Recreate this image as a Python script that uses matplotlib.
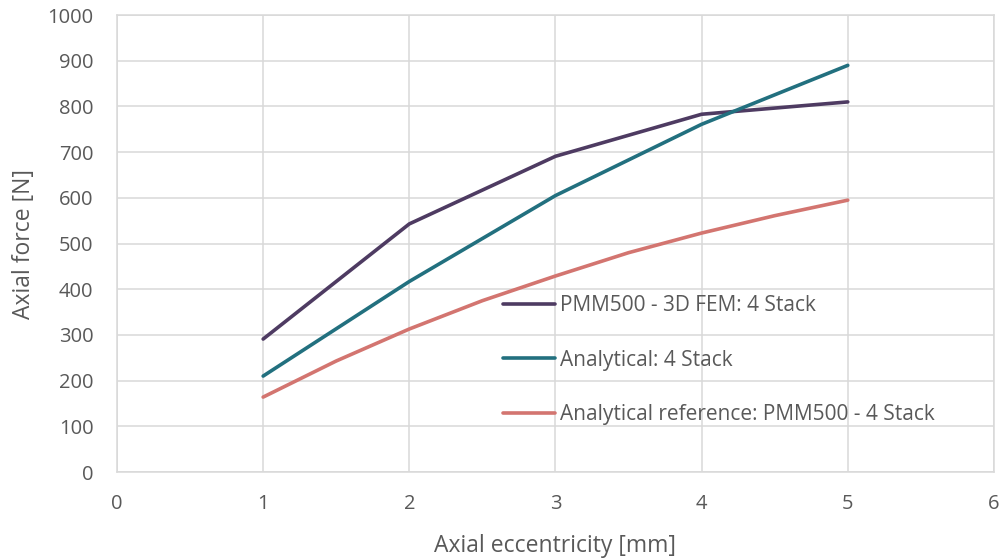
import matplotlib.pyplot as plt

plt.rcParams['font.family'] = ['Open Sans', 'DejaVu Sans']

x_main = [1, 2, 3, 4, 5]
fem_4stack = [291, 543, 691, 783, 810]
analytical_4stack = [210, 417, 605, 761, 890]

x_ref = [1, 1.5, 2, 2.5, 3, 3.5, 4, 4.5, 5]
analytical_ref = [164, 243, 313, 375, 429, 480, 523, 561, 595]

labels = ['PMM500 - 3D FEM: 4 Stack', 'Analytical: 4 Stack',
          'Analytical reference: PMM500 - 4 Stack']
colors = ['#4E3B62', '#22707F', '#D37570']

fig = plt.figure(figsize=(10.06, 5.59), dpi=100)
ax = fig.add_axes([0.1163, 0.1556, 0.8717, 0.8174])

ax.plot(x_main, fem_4stack, color=colors[0], lw=2.6, label=labels[0], solid_capstyle='round')
ax.plot(x_main, analytical_4stack, color=colors[1], lw=2.6, label=labels[1], solid_capstyle='round')
ax.plot(x_ref, analytical_ref, color=colors[2], lw=2.6, label=labels[2], solid_capstyle='round')

ax.set_xlim(0, 6)
ax.set_ylim(0, 1000)
ax.set_xticks(range(0, 7))
ax.set_yticks(range(0, 1001, 100))
ax.grid(True, color='#D9D9D9', lw=1.1)
ax.set_axisbelow(True)
for s in ax.spines.values():
    s.set_color('#D9D9D9')
    s.set_linewidth(1.1)
ax.tick_params(length=0, labelsize=14.5, labelcolor='#595959')
ax.tick_params(axis='x', pad=16)
ax.tick_params(axis='y', pad=17)

ax.set_xlabel('Axial eccentricity [mm]', fontsize=16.5, color='#595959', labelpad=14)
ax.set_ylabel('Axial force [N]', fontsize=16.5, color='#595959', labelpad=8)

ax.legend(loc='upper left', bbox_to_anchor=(0.431, 0.405), frameon=False,
          fontsize=15, labelcolor='#595959', handlelength=2.5, handletextpad=0.2,
          labelspacing=1.6, borderaxespad=0)

fig.savefig('out.png', dpi=100)
